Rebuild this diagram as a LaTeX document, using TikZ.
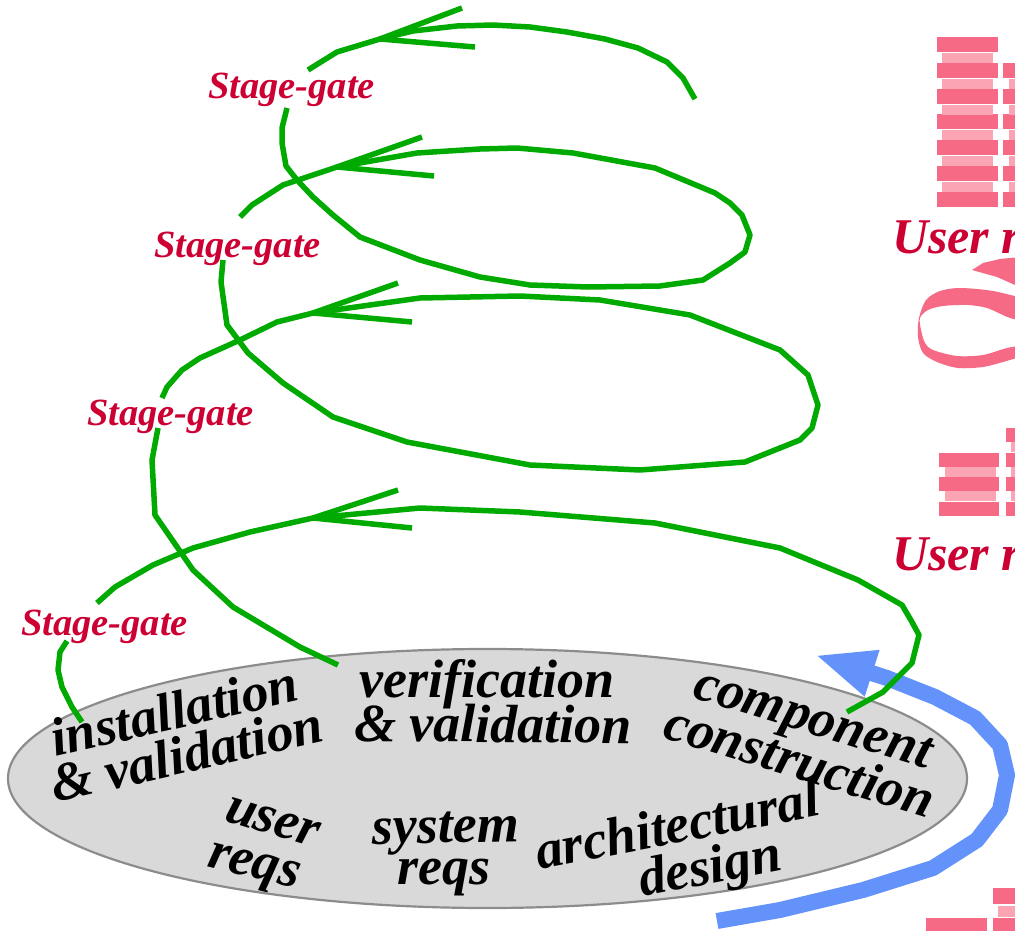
\documentclass[tikz,border=0pt]{standalone}
\usepackage{fontspec}
\setmainfont{Liberation Serif}
\usetikzlibrary{arrows.meta,shapes.geometric}

\definecolor{spiralgreen}{RGB}{0,170,0}
\definecolor{gatered}{RGB}{204,0,51}
\definecolor{flowblue}{RGB}{98,146,250}
\definecolor{barpink}{RGB}{246,106,134}
\definecolor{barlight}{RGB}{250,164,180}
\definecolor{platefill}{RGB}{217,217,217}
\definecolor{plateline}{RGB}{140,140,140}

\newcommand{\gatefont}{\fontsize{38.5}{42}\selectfont\bfseries\itshape}
\newcommand{\phasefont}{\fontsize{54}{58}\selectfont\bfseries\itshape}
\newcommand{\userfont}{\fontsize{50}{54}\selectfont\bfseries\itshape}

\begin{document}
\begin{tikzpicture}
  [x=1pt,y=-1pt,line join=round]
  \tikzstyle{spiral} = [draw=spiralgreen,line width=5.5pt]
  \tikzstyle{gate} = [text=gatered,font=\gatefont,anchor=base west,inner sep=0]
  \tikzstyle{phase} = [font=\phasefont,anchor=base west,inner sep=0]
  \tikzstyle{userlabel} = [text=gatered,font=\userfont,anchor=base west,inner sep=0]
  \tikzstyle{flow} = [draw=flowblue,line width=16pt,-{Triangle[length=60pt,width=44pt]}]
  \tikzstyle{darkbar} = [fill=barpink]
  \tikzstyle{lightbar} = [fill=barlight]

  \useasboundingbox (0,0) rectangle (1015,931);
  \clip (0,0) rectangle (1015,931);

  %%% pink stacks at the right edge
  \foreach \k in {0,...,6}
     \fill[darkbar] (937,37+25.8*\k) rectangle +(61,15);
  \foreach \k in {0,...,5}
     \fill[lightbar] (942,53+25.8*\k) rectangle +(51,10);
  \foreach \k in {1,...,6}
     \fill[darkbar] (1003,37+25.8*\k) rectangle +(30,15);
  \foreach \k in {1,...,5}
     \fill[lightbar] (1009,53+25.8*\k) rectangle +(30,10);

  \foreach \k in {1,...,3}
     \fill[darkbar] (939,428+24.6*\k) rectangle +(60,14);
  \foreach \k in {1,2}
     \fill[lightbar] (945,442+24.6*\k) rectangle +(51,10);
  \foreach \k in {0,...,3}
     \fill[darkbar] (1006,428+24.6*\k) rectangle +(30,14);
  \foreach \k in {0,...,2}
     \fill[lightbar] (1011,442+24.6*\k) rectangle +(30,10);

  \fill[darkbar] (993,888) rectangle +(30,16);
  \fill[lightbar] (998,906) rectangle +(30,11);
  \fill[darkbar] (993,918) rectangle +(30,20);
  \fill[darkbar] (926,918) rectangle +(61,20);

  % ribbon
  \fill[barpink] (972,270) -- (983,263) -- (1000,259) -- (1030,256) -- (1030,290) -- (1015,285) -- (997,277) -- cycle;
  \fill[barpink] plot[smooth] coordinates {(1030,300) (993,291) (960,288) (940,291) (926,300) (919,318) (918,337) (923,353) (937,362) (958,368) (983,367) (1003,362) (1030,354)}
     -- plot[smooth] coordinates {(1030,344) (1007,348) (983,355) (957,356) (933,350) (925,343) (921,330) (920,318) (928,310) (943,306) (967,305) (987,308) (1010,318) (1030,322)} -- cycle;

  \node[userlabel] (user1) at (892,253) {User r};
  \node[userlabel] (user2) at (892,570) {User r};

  %%% the phases
  \node[ellipse,fill=platefill,draw=plateline,line width=2.2pt,minimum width=959pt,minimum height=259pt,inner sep=0] (plate) at (487.5,778.5) {};

  \draw[flow] (717,921) -- (780,910) -- (863,890) -- (933,868) -- (977,840) -- (1000,810) -- (1007,775) -- (1000,745) -- (975,718) -- (935,697) -- (887,678) -- (815,655);

  %%% spiral, top to bottom
  \coordinate (tip1) at (380,39);
  \coordinate (tip2) at (337,167);
  \coordinate (tip3) at (313,313);
  \coordinate (tip4) at (313,518);

  \draw[spiral] (695,99) -- (683,78) -- (667,62) -- (638,48) -- (605,39) -- (567,32) -- (530,27) -- (493,25) -- (457,26) -- (413,31) -- (tip1) -- (337,52) -- (308,70);
  \draw[spiral] (462,8) -- (tip1) -- (475,47);
  \draw[spiral] (287,108) -- (282,128) -- (282,143) -- (286,166) -- (297,180) -- (313,197) -- (333,215) -- (360,237) -- (420,260) -- (480,277) -- (530,285) -- (588,287) -- (660,286) -- (703,280) -- (730,263) -- (745,252) -- (750,235) -- (742,215) -- (730,203) -- (715,193) -- (655,168) -- (573,153) -- (517,148) -- (480,149) -- (417,153) -- (tip2) -- (283,185) -- (252,205) -- (240,217);
  \draw[spiral] (422,137) -- (tip2) -- (434,176);
  \draw[spiral] (223,260) -- (221,282) -- (227,325) -- (248,353) -- (283,383) -- (333,417) -- (407,442) -- (530,465) -- (640,470) -- (745,462) -- (800,440) -- (812,428) -- (818,405) -- (808,375) -- (780,350) -- (690,315) -- (600,300) -- (520,296) -- (420,298) -- (tip3) -- (277,322) -- (240,340) -- (200,358) -- (182,370) -- (167,387) -- (162,398);
  \draw[spiral] (398,283) -- (tip3) -- (412,322);
  \draw[spiral] (158,428) -- (152,460) -- (155,515) -- (193,570) -- (233,607) -- (300,647) -- (338,665);
  \draw[spiral] (847,712) -- (883,692) -- (912,663) -- (919,635) -- (912,622) -- (902,605) -- (858,580) -- (780,548) -- (655,523) -- (520,512) -- (420,508) -- (tip4) -- (250,532) -- (193,548) -- (153,565) -- (115,587) -- (97,603);
  \draw[spiral] (398,490) -- (tip4) -- (412,528);
  \draw[spiral] (67,641) -- (60,652) -- (58,670) -- (62,687) -- (72,707) -- (82,722);

  \node[gate] (gate1) at (208,99) {Stage-gate};
  \node[gate] (gate2) at (154,257) {Stage-gate};
  \node[gate] (gate3) at (87,425) {Stage-gate};
  \node[gate] (gate4) at (21,635) {Stage-gate};

  \node[phase,rotate=13] (inst) at (55,757) {installation};
  \node[phase,rotate=13] (instval) at (55,803) {\& validation};
  \node[phase] (verif) at (359,697) {verification};
  \node[phase,rotate=-0.5] (verifval) at (354,741) {\& validation};
  \node[phase,rotate=-17] (comp) at (691,697) {component};
  \node[phase,rotate=-17] (constr) at (661,737) {construction};
  \node[phase,rotate=-17] (user) at (223,820) {user};
  \node[phase,rotate=-14] (userreqs) at (206,866) {reqs};
  \node[phase,rotate=1] (sys) at (372,844) {system};
  \node[phase] (sysreqs) at (397,884) {reqs};
  \node[phase,rotate=11] (arch) at (539,870) {architectural};
  \node[phase,rotate=11] (design) at (642,897) {design};

\end{tikzpicture}
\end{document}
